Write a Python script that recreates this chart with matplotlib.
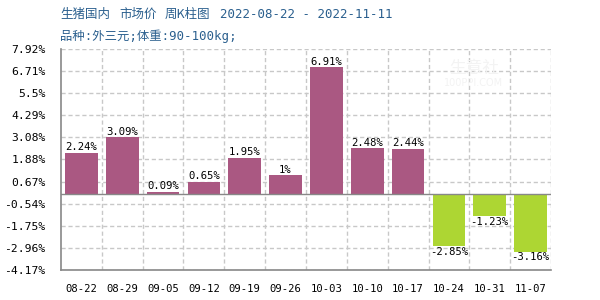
import matplotlib
matplotlib.use("Agg")
import matplotlib.pyplot as plt
import numpy as np

categories = ["08-22", "08-29", "09-05", "09-12", "09-19", "09-26",
              "10-03", "10-10", "10-17", "10-24", "10-31", "11-07"]
values = [2.24, 3.09, 0.09, 0.65, 1.95, 1.00, 6.91, 2.48, 2.44, -2.85, -1.23, -3.16]
labels = ["2.24%", "3.09%", "0.09%", "0.65%", "1.95%", "1%", "6.91%", "2.48%",
          "2.44%", "-2.85%", "-1.23%", "-3.16%"]
yticks = [7.92, 6.71, 5.5, 4.29, 3.08, 1.88, 0.67, -0.54, -1.75, -2.96, -4.17]
ytick_labels = ["7.92%", "6.71%", "5.5%", "4.29%", "3.08%", "1.88%", "0.67%",
                "-0.54%", "-1.75%", "-2.96%", "-4.17%"]
title_parts = ["生猪国内", "市场价", "周K柱图"]
date_range = "2022-08-22 - 2022-11-11"
subtitle = "品种:外三元;体重:90-100kg;"

POS = "#AA5882"
NEG = "#ADD633"
MONO = ["DejaVu Sans Mono", "Noto Sans CJK SC"]
CJK = ["Noto Sans CJK SC", "DejaVu Sans"]

fig = plt.figure(figsize=(6, 3), dpi=100)
ax = fig.add_axes([61/600, 1-270/300, 490/600, (270-49)/300])

x = np.arange(len(categories))
colors = [POS if v >= 0 else NEG for v in values]
ax.bar(x, values, width=0.8, color=colors, zorder=3)

ax.set_xlim(-0.5, len(categories) - 0.5)
ax.set_ylim(-4.17, 7.92)
ax.set_yticks(yticks)
ax.set_yticklabels(ytick_labels, family=MONO, fontsize=8.2)
ax.set_xticks(x)
ax.set_xticklabels(categories, family=MONO, fontsize=7.6)
ax.tick_params(axis="y", length=0, pad=11)
ax.tick_params(axis="x", length=0, pad=10)

# grid
for yt in yticks:
    ax.axhline(yt, color="#C8C8C8", lw=1, ls=(0, (3, 2)), zorder=1)
for xb in np.arange(0.5, len(categories), 1.0):
    ax.axvline(xb, color="#C8C8C8", lw=1, ls=(0, (3, 2)), zorder=1)
ax.axhline(0, color="#888888", lw=1, zorder=4)

for side in ["top", "right"]:
    ax.spines[side].set_visible(False)
for side in ["left", "bottom"]:
    ax.spines[side].set_color("#888888")
    ax.spines[side].set_linewidth(1.2)

for xi, v, lab in zip(x, values, labels):
    if v >= 0:
        ax.annotate(lab, (xi, v), xytext=(0, 0.5), textcoords="offset points",
                    ha="center", va="bottom", family=MONO, fontsize=7.6, zorder=5)
    else:
        ax.annotate(lab, (xi, v), xytext=(0, -0.5), textcoords="offset points",
                    ha="center", va="top", family=MONO, fontsize=7.6, zorder=5)

# watermark
fig.text(0.79, 0.77, "生意社", family=CJK, fontsize=12,
         color="#F3F3F3", ha="center", va="center", zorder=0)
fig.text(0.79, 0.725, "100PPI.COM", family=["DejaVu Sans"], fontsize=7,
         color="#F3F3F3", ha="center", va="center", zorder=0)

title_color = "#2A5F8E"
for part, px in zip(title_parts, [60, 119, 165]):
    fig.text(px/600, 1-14/300, part, family=CJK,
             fontsize=9.0, color=title_color, ha="left", va="center")
fig.text(220/600, 1-14/300, date_range, family=MONO,
         fontsize=9.0, color=title_color, ha="left", va="center")
fig.text(60/600, 1-36/300, subtitle, family=MONO,
         fontsize=8.9, color=title_color, ha="left", va="center")

fig.savefig("out.png", dpi=100)
